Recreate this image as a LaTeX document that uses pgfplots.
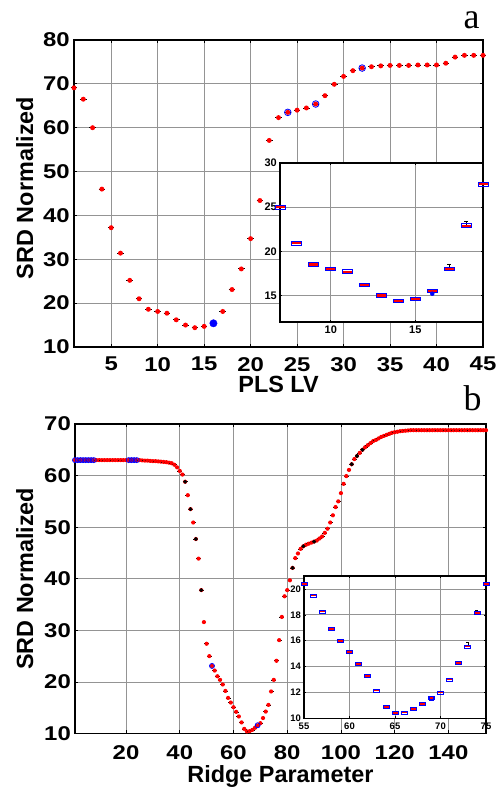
\documentclass[border=0pt]{standalone}
\usepackage{pgfplots}
\pgfplotsset{compat=1.18}
\usepackage{fontspec}
\setmainfont{Liberation Sans}
\newfontfamily\tickfont[FakeStretch=1.2]{Liberation Sans}
\newfontfamily\letterfont{Liberation Serif}

\pgfdeclareplotmark{rdA}{%
  \pgfsetlinewidth{0.9bp}\pgfsetstrokecolor{black}%
  \pgfpathmoveto{\pgfpoint{-3.3bp}{0bp}}\pgfpathlineto{\pgfpoint{3.3bp}{0bp}}\pgfusepath{stroke}%
  \pgfsetfillcolor{red}\pgfpathcircle{\pgfpointorigin}{2.5bp}\pgfusepath{fill}}
\pgfdeclareplotmark{rdB}{%
  \pgfsetlinewidth{0.6bp}\pgfsetstrokecolor{black}%
  \pgfpathmoveto{\pgfpoint{-2.4bp}{0bp}}\pgfpathlineto{\pgfpoint{2.4bp}{0bp}}\pgfusepath{stroke}%
  \pgfsetfillcolor{red}\pgfpathcircle{\pgfpointorigin}{2.1bp}\pgfusepath{fill}}
\pgfdeclareplotmark{bxA}{%
  \pgfsetfillcolor{red}\pgfpathrectangle{\pgfpoint{-4.6bp}{-1.1bp}}{\pgfpoint{9.2bp}{2.2bp}}\pgfusepath{fill}%
  \pgfsetlinewidth{0.9bp}\pgfsetstrokecolor{blue}%
  \pgfpathrectangle{\pgfpoint{-5bp}{-1.8bp}}{\pgfpoint{10bp}{3.6bp}}\pgfusepath{stroke}}
\pgfdeclareplotmark{bxB}{%
  \pgfsetfillcolor{red}\pgfpathrectangle{\pgfpoint{-2.7bp}{-0.9bp}}{\pgfpoint{5.4bp}{1.8bp}}\pgfusepath{fill}%
  \pgfsetlinewidth{0.8bp}\pgfsetstrokecolor{blue}%
  \pgfpathrectangle{\pgfpoint{-3bp}{-1.5bp}}{\pgfpoint{6bp}{3bp}}\pgfusepath{stroke}}

\pgfplotsset{
  mainax/.style={scale only axis, anchor=south west,
    axis line style={line width=1.3bp}, grid=major,
    major grid style={black!42, line width=0.8bp},
    tick style={black, line width=0.8bp}, major tick length=3bp,
    /pgf/number format/assume math mode=true,
    ticklabel style={font=\fontsize{20}{22}\selectfont\tickfont\bfseries},
    yticklabel style={inner sep=0pt, anchor=east, xshift=-4bp},
    label style={font=\fontsize{23.5}{25}\selectfont\bfseries, inner sep=0pt}},
  inax/.style={scale only axis, anchor=south west,
    axis line style={line width=1.2bp}, grid=major,
    major grid style={black!42, line width=0.7bp},
    tick style={black, line width=0.6bp}, major tick length=2bp,
    axis background/.style={fill=white},
    /pgf/number format/assume math mode=true,
    yticklabel style={inner sep=0pt, anchor=east, xshift=-3bp},
    xticklabel style={inner sep=0pt, anchor=north, yshift=-4bp}}
}

\begin{document}
\begin{tikzpicture}
\path[use as bounding box] (0,0) rectangle (501bp,793bp);

% ---------------- panel a ----------------
\begin{axis}[mainax, at={(74bp,446bp)}, width=409bp, height=307bp,
  xmin=1, xmax=45, ymin=10, ymax=80,
  xtick={5,10,...,45}, ytick={10,20,...,80},
  xticklabel style={inner sep=0pt, anchor=north, yshift=-10bp},
  xlabel={PLS LV}, ylabel={SRD Normalized},
  xlabel style={at={(axis description cs:0.5,0)}, anchor=base, yshift=-46bp},
  ylabel style={at={(axis description cs:-0.1002,0.518)}, anchor=base}]
\addplot[only marks, mark=rdA] coordinates {
(1,69.1)(2,66.5)(3,60.0)(4,46.0)(5,37.2)(6,31.4)(7,25.2)(8,21.0)(9,18.6)(10,18.1)
(11,17.7)(12,16.2)(13,15.0)(14,14.4)(15,14.7)(17,18.1)(18,23.1)(19,27.8)(20,34.7)
(21,43.4)(22,57.1)(23,62.3)(24,63.5)(25,64.0)(26,64.5)(27,65.4)(28,67.3)(29,69.9)(30,71.7)
(31,73.0)(32,73.6)(33,73.9)(34,74.1)(35,74.2)(36,74.2)(37,74.2)(38,74.3)(39,74.3)(40,74.3)
(41,74.7)(42,76.1)(43,76.5)(44,76.5)(45,76.5)};
\addplot[only marks, mark=o, blue, mark size=3.3bp, line width=0.8bp] coordinates {(24,63.5)(27,65.4)(32,73.6)};
\addplot[only marks, mark=*, blue, mark size=3.7bp] coordinates {(16,15.4)};
\end{axis}

\begin{axis}[inax, at={(280bp,471bp)}, width=203bp, height=159bp,
  xmin=7, xmax=19, ymin=12, ymax=30, xtick={10,15}, ytick={15,20,25,30},
  ticklabel style={font=\fontsize{11}{12}\selectfont\bfseries}]
\addplot[draw=none, mark=none, forget plot, error bars/.cd, y dir=plus, y explicit,
  error bar style={black, line width=0.6bp}, error mark options={black, rotate=90, mark size=2bp}]
  coordinates {(16,15.5) +- (0,0.15) (17,18.0) +- (0,0.5) (18,22.9) +- (0,0.5)};
\addplot[only marks, mark=bxA] coordinates {
(7,25.0)(8,20.9)(9,18.5)(10,18.0)(11,17.7)(12,16.2)(13,15.0)(14,14.4)(15,14.6)(16,15.5)
(17,18.0)(18,22.9)(19,27.6)};
\addplot[only marks, mark=*, blue, mark size=2bp] coordinates {(16,15.2)};
\end{axis}

% ---------------- panel b ----------------
\begin{axis}[mainax, at={(75bp,59.5bp)}, width=411bp, height=309.5bp,
  xmin=1, xmax=154, ymin=10, ymax=70,
  xtick={20,40,...,140}, ytick={10,20,...,70},
  xticklabel style={inner sep=0pt, anchor=north, yshift=-11.5bp},
  xlabel={Ridge Parameter}, ylabel={SRD Normalized},
  xlabel style={at={(axis description cs:0.5,0)}, anchor=base, yshift=-48.5bp},
  ylabel style={at={(axis description cs:-0.102,0.5)}, anchor=base}]
\addplot[only marks, mark=rdB] coordinates {
(1,63.0)(2,63.0)(3,63.0)(4,63.0)(5,63.0)(6,63.0)(7,63.0)(8,63.0)(9,63.0)(10,63.0)
(11,63.0)(12,63.0)(13,63.0)(14,63.0)(15,63.0)(16,63.0)(17,63.0)(18,63.0)(19,63.0)(20,63.0)
(21,63.0)(22,63.0)(23,63.0)(24,63.0)(25,63.0)(26,62.95)(27,62.9)(28,62.9)(29,62.85)(30,62.8)
(31,62.8)(32,62.75)(33,62.7)(34,62.65)(35,62.6)(36,62.5)(37,62.4)(38,62.1)(39,61.6)(40,60.9)
(41,60.2)(42,58.8)(43,56.2)(44,53.5)(45,50.9)(46,47.7)(47,43.9)(48,37.8)(49,31.6)(50,27.4)
(51,25.0)(52,23.1)(53,22.2)(54,21.1)(55,20.4)(56,19.5)(57,18.25)(58,16.9)(59,16.0)(60,15.1)
(61,14.2)(62,13.3)(63,12.15)(64,10.9)(65,10.4)(66,10.45)(67,10.7)(68,11.1)(69,11.55)(70,12.0)
(71,13.0)(72,14.25)(73,15.55)(74,18.15)(75,20.4)(76,24.1)(77,28.1)(78,32.6)(79,36.6)(80,37.8)
(81,39.7)(82,42.1)(83,44.0)(84,44.9)(85,45.8)(86,46.3)(87,46.6)(88,46.8)(89,47.0)(90,47.2)
(91,47.4)(92,47.8)(93,48.2)(94,48.9)(95,49.7)(96,50.9)(97,52.3)(98,53.9)(99,55.0)(100,56.6)
(101,58.4)(102,59.9)(103,61.1)(104,62.2)(105,63.2)(106,63.8)(107,64.4)(108,65.0)(109,65.5)(110,65.9)
(111,66.3)(112,66.7)(113,66.9)(114,67.2)(115,67.5)(116,67.7)(117,67.9)(118,68.1)(119,68.3)(120,68.4)
(121,68.5)(122,68.6)(123,68.65)(124,68.7)(125,68.75)(126,68.8)(127,68.8)(128,68.8)(129,68.8)(130,68.8)
(131,68.8)(132,68.8)(133,68.8)(134,68.8)(135,68.8)(136,68.8)(137,68.8)(138,68.8)(139,68.8)(140,68.8)
(141,68.8)(142,68.8)(143,68.8)(144,68.8)(145,68.8)(146,68.8)(147,68.8)(148,68.8)(149,68.8)(150,68.8)
(151,68.8)(152,68.8)(153,68.8)(154,68.8)};
\addplot[only marks, mark=o, blue, mark size=2.5bp, line width=0.8bp] coordinates {
(1,63.0)(2,63.0)(3,63.0)(4,63.0)(5,63.0)(6,63.0)(7,63.0)(8,63.0)
(21,63.0)(22,63.0)(23,63.0)(24,63.0)(52,23.1)(69,11.6)};
\addplot[only marks, mark=*, black, mark size=1.8bp] coordinates {
(42,58.8)(44,53.5)(46,47.7)(48,37.8)(82,42.1)(86,46.3)(90,47.2)(104,62.2)(106,63.8)(108,65.0)};
\end{axis}

\begin{axis}[inax, at={(304bp,74.7bp)}, width=182bp, height=142.3bp,
  xmin=55, xmax=75, ymin=10, ymax=21, xtick={55,60,...,75}, ytick={10,12,...,20},
  ticklabel style={font=\fontsize{9.5}{10}\selectfont\bfseries}]
\addplot[draw=none, mark=none, forget plot, error bars/.cd, y dir=plus, y explicit,
  error bar style={black, line width=0.5bp}, error mark options={black, rotate=90, mark size=1.5bp}]
  coordinates {(73,15.55) +- (0,0.3) (74,18.15) +- (0,0.2)};
\addplot[only marks, mark=bxB] coordinates {
(55,20.4)(56,19.5)(57,18.25)(58,16.9)(59,16.0)(60,15.1)(61,14.2)(62,13.3)(63,12.15)(64,10.9)
(65,10.4)(66,10.45)(67,10.7)(68,11.1)(69,11.55)(70,12.0)(71,13.0)(72,14.25)(73,15.55)(74,18.15)
(75,20.4)};
\addplot[only marks, mark=square, blue, mark size=2.2bp, line width=0.8bp] coordinates {(69,11.55)};
\end{axis}

\node[font=\fontsize{36}{40}\selectfont\letterfont, anchor=base] at (471.5bp,764bp) {a};
\node[font=\fontsize{36}{40}\selectfont\letterfont, anchor=base] at (472.5bp,382bp) {b};
\end{tikzpicture}
\end{document}
